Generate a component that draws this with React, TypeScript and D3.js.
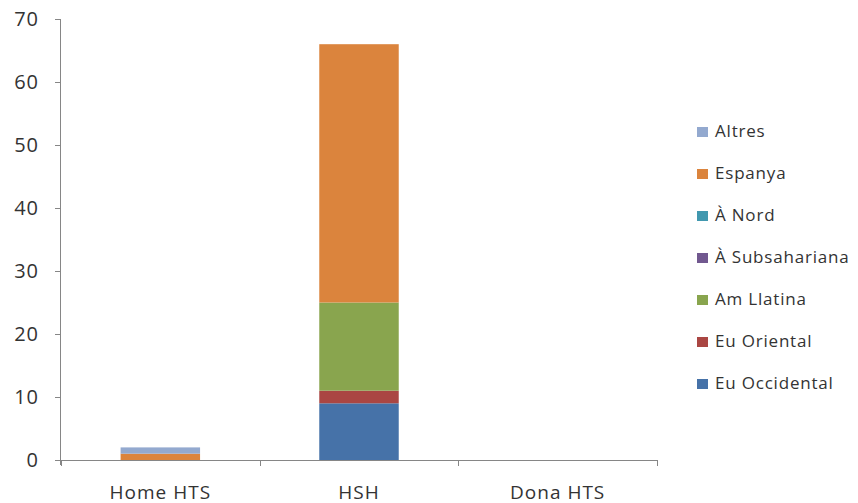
import { useEffect, useRef } from 'react';
import * as d3 from 'd3';

const categories = ['Home HTS', 'HSH', 'Dona HTS'];
const seriesNames = ['Eu Occidental', 'Eu Oriental', 'Am Llatina', 'À Subsahariana', 'À Nord', 'Espanya', 'Altres'];
const seriesColors = ['#4672A8', '#AA4643', '#89A54E', '#71588F', '#4198AF', '#DB843D', '#93A9CF'];
const euOccidental = [0, 9, 0];
const euOriental = [0, 2, 0];
const amLlatina = [0, 14, 0];
const aSubsahariana = [0, 0, 0];
const aNord = [0, 0, 0];
const espanya = [1, 41, 0];
const altres = [1, 0, 0];
const yTicks = [0, 10, 20, 30, 40, 50, 60, 70];

const seriesValues = [euOccidental, euOriental, amLlatina, aSubsahariana, aNord, espanya, altres];

export default function App() {
  const svgRef = useRef<SVGSVGElement>(null);

  useEffect(() => {
    if (!svgRef.current) return;
    const svg = d3.select(svgRef.current);
    svg.selectAll('*').remove();

    const font = '"Open Sans", sans-serif';
    const axisColor = '#868686';
    const textColor = '#333';
    const left = 61, right = 657, top = 19, bottom = 460;

    const rows = categories.map((c, i) => {
      const r: Record<string, number | string> = { category: c };
      seriesNames.forEach((s, j) => { r[s] = seriesValues[j][i]; });
      return r;
    });
    const stacked = d3.stack<any>().keys(seriesNames)(rows);

    const x = d3.scaleBand().domain(categories).range([left, right]).paddingInner(0.6).paddingOuter(0.3);
    const y = d3.scaleLinear().domain([0, 70]).range([bottom, top]);

    // bars
    stacked.forEach((layer, j) => {
      svg.append('g')
        .selectAll('rect')
        .data(layer)
        .join('rect')
        .attr('x', d => x(d.data.category as string)!)
        .attr('width', x.bandwidth())
        .attr('y', d => y(d[1]))
        .attr('height', d => Math.max(0, y(d[0]) - y(d[1])))
        .attr('fill', seriesColors[j]);
    });

    // y axis
    const yAxis = svg.append('g')
      .attr('transform', `translate(${left},0)`)
      .call(d3.axisLeft(y).tickValues(yTicks).tickSize(6).tickPadding(16));
    yAxis.select('.domain').attr('stroke', axisColor).attr('d', `M-0.5,${top}V${bottom + 5}`);
    yAxis.selectAll('.tick line').attr('stroke', axisColor);
    yAxis.selectAll('.tick text')
      .attr('fill', textColor)
      .attr('font-family', font)
      .attr('font-size', 20)
      .attr('letter-spacing', 1);

    // x axis
    const xAxis = svg.append('g').attr('transform', `translate(0,${bottom})`);
    xAxis.append('line')
      .attr('x1', left).attr('x2', right)
      .attr('y1', 0.5).attr('y2', 0.5)
      .attr('stroke', axisColor);
    const step = x.step();
    const boundaries = d3.range(categories.length + 1).map(i => left + i * step);
    xAxis.selectAll('line.tick')
      .data(boundaries)
      .join('line')
      .attr('class', 'tick')
      .attr('x1', d => Math.round(d) + 0.5).attr('x2', d => Math.round(d) + 0.5)
      .attr('y1', 0).attr('y2', 6)
      .attr('stroke', axisColor);
    xAxis.selectAll('text')
      .data(categories)
      .join('text')
      .attr('x', d => x(d)! + x.bandwidth() / 2)
      .attr('y', 39)
      .attr('text-anchor', 'middle')
      .attr('fill', textColor)
      .attr('font-family', font)
      .attr('font-size', 19)
      .attr('letter-spacing', 1)
      .text(d => d);

    // legend
    const legendOrder = seriesNames.map((s, i) => i).reverse();
    const legend = svg.append('g').attr('transform', 'translate(697,137)');
    const items = legend.selectAll('g')
      .data(legendOrder)
      .join('g')
      .attr('transform', (d, i) => `translate(0,${i * 42})`);
    items.append('rect')
      .attr('x', 0).attr('y', -10)
      .attr('width', 11).attr('height', 10)
      .attr('fill', d => seriesColors[d]);
    items.append('text')
      .attr('x', 18).attr('y', 0)
      .attr('fill', textColor)
      .attr('font-family', font)
      .attr('font-size', 17)
      .attr('letter-spacing', 0.8)
      .text(d => seriesNames[d]);
  }, []);

  return (
    <svg ref={svgRef} width={858} height={503} style={{ position: 'absolute', left: 0, top: 0, background: '#fff' }} />
  );
}
